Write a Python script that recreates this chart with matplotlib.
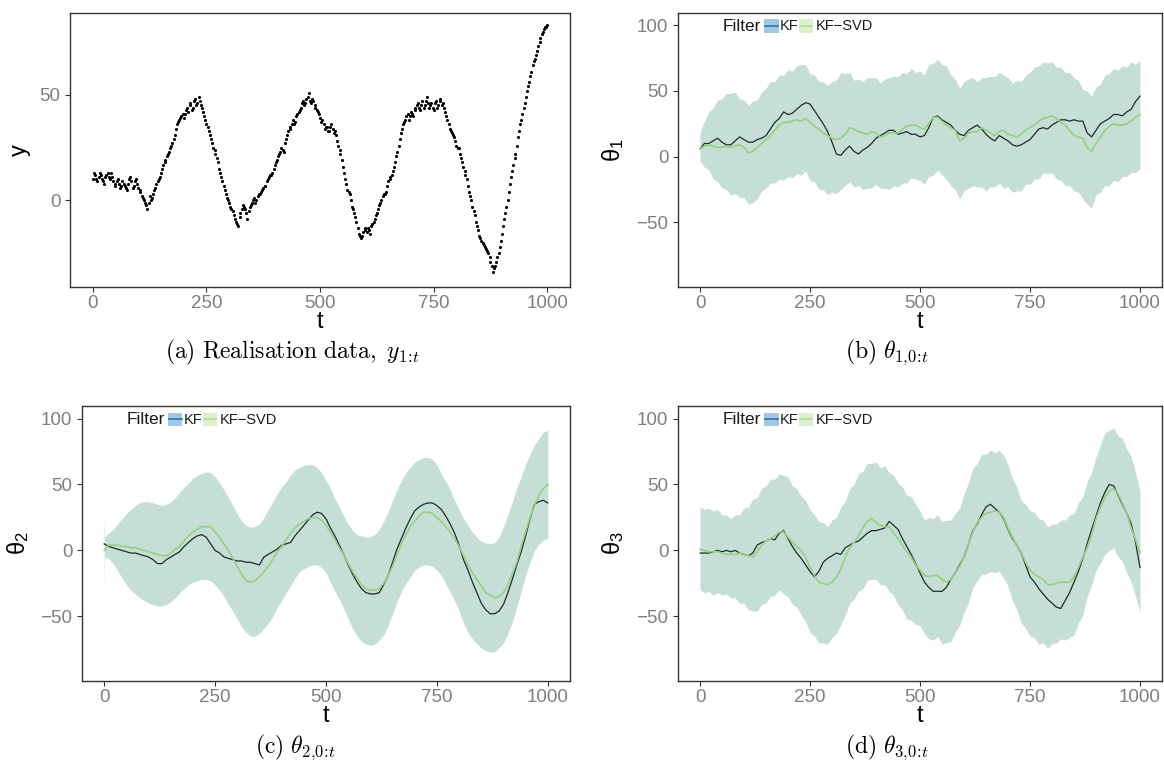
import numpy as np
import matplotlib
matplotlib.use("Agg")
import matplotlib.pyplot as plt
from matplotlib.patches import Rectangle
from matplotlib.lines import Line2D

plt.rcParams['font.family'] = ['Liberation Sans', 'DejaVu Sans']

# ---------------------------------------------------------------- data
t_obs = np.arange(0, 1001, 5)
y_obs = [
    10, 12, 9, 13, 10, 8, 12, 11, 13, 9, 8, 10, 6, 9, 7, 5, 10, 9, 7, 10,
    6, 4, 1, -1, -4, 2, 1, 5, 8, 10, 13, 17, 19, 22, 25, 27, 31, 36, 38, 40,
    39, 43, 42, 46, 44, 48, 46, 47, 44, 40, 36, 33, 29, 25, 22, 18, 13, 9, 5, 1,
    -1, -4, -7, -10, -12, -6, -2, -4, -9, -3, -1, 1, 0, 3, 4, 6, 7, 10, 12, 13,
    17, 19, 22, 25, 23, 29, 33, 35, 38, 37, 41, 43, 46, 45, 48, 51, 46, 47, 44, 42,
    39, 38, 34, 35, 33, 36, 32, 31, 26, 22, 16, 10, 5, 3, -3, -6, -10, -16, -18, -15,
    -14, -13, -16, -11, -9, -6, -2, 0, 3, 4, 9, 11, 14, 18, 23, 29, 34, 37, 40, 38,
    42, 40, 44, 46, 43, 47, 45, 49, 44, 46, 43, 47, 45, 47, 46, 42, 38, 34, 32, 30,
    26, 25, 20, 16, 12, 7, 2, -3, -7, -12, -17, -19, -21, -23, -25, -29, -34, -31, -27, -22,
    -16, -9, -3, 4, 11, 17, 22, 30, 36, 41, 46, 52, 56, 61, 66, 69, 73, 77, 80, 82,
    83,
]
t_obs_mid = np.arange(3, 1000, 5)
y_obs_mid = [
    13, 10, 11, 12, 9, 11, 13, 10, 11, 7, 9, 8, 7, 8, 6, 8, 11, 6, 9, 8,
    5, 2, 0, -2, -1, 0, 3, 6, 9, 11, 15, 18, 21, 23, 26, 29, 34, 37, 39, 41,
    41, 44, 45, 43, 47, 45, 49, 45, 42, 38, 35, 31, 27, 24, 20, 15, 11, 7, 3, 0,
    -3, -5, -9, -11, -8, -4, -3, -6, -5, -2, 0, -1, 2, 3, 5, 7, 9, 11, 12, 15,
    18, 21, 23, 24, 27, 31, 34, 36, 36, 40, 42, 44, 47, 46, 49, 47, 48, 45, 43, 41,
    37, 36, 35, 33, 35, 34, 33, 28, 24, 19, 13, 8, 4, 0, -4, -8, -13, -17, -17, -13,
    -15, -14, -12, -10, -7, -4, -1, 2, 3, 7, 10, 12, 16, 21, 26, 32, 36, 38, 41, 40,
    41, 43, 45, 44, 45, 44, 47, 46, 45, 44, 46, 44, 48, 45, 44, 40, 36, 33, 31, 28,
    25, 22, 18, 14, 10, 4, 0, -5, -10, -14, -18, -20, -22, -24, -27, -31, -32, -29, -25, -19,
    -12, -6, 0, 8, 14, 20, 26, 33, 38, 44, 49, 54, 59, 64, 67, 71, 75, 79, 81, 82,
]

t_grid = np.arange(0, 1001, 10)

theta1_kf = [
    6, 10, 10, 12, 14, 11, 9, 9, 12, 15,
    13, 11, 11, 13, 14, 16, 21, 26, 29, 34,
    32, 33, 36, 39, 41, 40, 35, 30, 25, 19,
    11, 2, 1, 5, 8, 4, 2, 5, 7, 10,
    14, 16, 18, 20, 20, 17, 18, 19, 17, 17,
    15, 16, 22, 30, 31, 28, 26, 24, 20, 17,
    16, 20, 22, 24, 21, 17, 14, 12, 16, 14,
    12, 9, 8, 9, 11, 13, 17, 21, 22, 21,
    24, 26, 28, 28, 27, 28, 27, 27, 18, 15,
    20, 25, 27, 29, 32, 32, 31, 34, 36, 42,
    46,
]
theta1_svd = [
    6, 8, 9, 8, 7, 7, 8, 7, 8, 9,
    7, 3, 4, 7, 10, 13, 16, 20, 24, 26,
    26, 27, 28, 27, 29, 26, 23, 21, 18, 16,
    14, 13, 14, 17, 22, 21, 19, 18, 17, 19,
    18, 15, 16, 18, 18, 18, 21, 23, 24, 24,
    22, 21, 25, 30, 30, 27, 24, 22, 20, 12,
    14, 18, 19, 19, 22, 20, 18, 16, 19, 20,
    17, 16, 15, 17, 20, 22, 24, 27, 29, 30,
    31, 29, 26, 24, 20, 16, 15, 14, 7, 4,
    10, 15, 20, 23, 25, 24, 24, 25, 27, 30,
    32,
]
theta1_upper = [
    18, 27, 34, 37, 43, 44, 48, 48, 49, 44,
    43, 39, 42, 43, 49, 52, 57, 57, 62, 62,
    66, 65, 69, 70, 70, 63, 62, 57, 57, 54,
    57, 58, 64, 63, 64, 58, 59, 57, 60, 60,
    60, 56, 59, 60, 61, 61, 64, 63, 67, 64,
    65, 62, 70, 71, 74, 70, 69, 62, 59, 52,
    57, 59, 60, 57, 60, 60, 61, 61, 64, 62,
    60, 56, 58, 57, 62, 64, 68, 69, 72, 71,
    72, 68, 68, 64, 64, 60, 58, 51, 50, 46,
    53, 55, 62, 63, 67, 66, 69, 68, 72, 70,
    73,
]
theta1_lower = [
    -3, -8, -10, -17, -19, -24, -25, -29, -28, -31,
    -31, -36, -35, -32, -26, -24, -20, -20, -17, -18,
    -15, -16, -13, -14, -11, -18, -19, -25, -25, -29,
    -27, -28, -25, -22, -19, -23, -22, -25, -24, -24,
    -21, -24, -24, -25, -22, -23, -20, -20, -16, -17,
    -18, -21, -15, -14, -10, -14, -17, -22, -25, -32,
    -26, -24, -22, -23, -23, -26, -23, -23, -20, -24,
    -23, -27, -26, -26, -21, -21, -17, -17, -12, -13,
    -12, -17, -18, -22, -22, -26, -27, -32, -36, -39,
    -29, -27, -22, -22, -18, -19, -15, -15, -12, -12,
    -9,
]

theta2_kf = [
    5, 3, 2, 1, 0, -1, -2, -2, -3, -4,
    -5, -7, -10, -10, -7, -5, -3, -1, 3, 6,
    9, 11, 12, 10, 5, 0, -2, -5, -6, -7,
    -8, -8, -9, -9, -10, -11, -5, -3, -1, 1,
    4, 5, 6, 11, 15, 19, 23, 27, 29, 28,
    24, 17, 11, 4, -3, -11, -18, -24, -29, -32,
    -33, -33, -32, -26, -19, -9, 1, 9, 17, 24,
    30, 33, 35, 36, 36, 34, 31, 26, 20, 13,
    4, -7, -15, -24, -32, -40, -45, -48, -48, -46,
    -41, -32, -22, -11, -1, 11, 24, 35, 37, 38,
    36,
]
theta2_svd = [
    0, 4, 4, 4, 3, 3, 2, 2, 1, 0,
    -1, -2, -3, -4, -4, -2, 1, 3, 7, 11,
    14, 16, 18, 18, 18, 14, 10, 5, 0, -6,
    -12, -18, -23, -24, -23, -20, -16, -12, -7, -1,
    3, 8, 13, 17, 20, 22, 24, 25, 25, 23,
    19, 14, 8, 2, -3, -10, -16, -21, -26, -29,
    -30, -30, -29, -25, -19, -12, -3, 5, 12, 18,
    22, 26, 29, 29, 28, 25, 22, 18, 14, 9,
    3, -4, -11, -17, -22, -27, -32, -34, -36, -35,
    -32, -26, -18, -9, 3, 14, 25, 34, 42, 47,
    50,
]
theta2_band_t = [0, 1] + list(range(10, 1001, 10))
theta2_upper = [
    28, 10,
    13, 16, 20, 24, 28, 31, 34, 36, 37,
    37, 36, 35, 34, 35, 37, 40, 44, 48, 51,
    55, 57, 58.5, 59.5, 59, 56, 51, 46, 40, 34,
    28, 22, 19, 17.5, 18, 20, 25, 31, 37, 43,
    48, 52, 57, 61, 63, 64.5, 65, 65, 63, 59,
    53, 47, 39, 33, 26, 20, 15, 12, 11, 10,
    10.5, 12, 16, 22, 29, 38, 46, 53, 59, 63,
    67, 69, 70.5, 70.5, 69, 65, 58, 52, 46, 38,
    31, 24, 19, 14, 10, 7, 5.5, 5, 6, 10,
    18, 27, 37, 47, 56, 65, 73, 80, 85, 90,
    91,
]
theta2_lower = [
    -28, -5,
    -6, -10, -15, -21, -26, -30, -33, -36, -38,
    -40, -41, -42, -42, -41, -39, -36, -32, -29, -26,
    -24, -23, -22, -22, -23, -26, -30, -35, -41, -46,
    -52, -58, -62, -65, -65, -63, -59, -55, -50, -43,
    -38, -32, -27, -21, -16, -14, -12, -11, -11, -13,
    -17, -24, -31, -37, -44, -52, -59, -65, -69, -71,
    -72, -71, -68, -64, -57, -48, -39, -31, -25, -20,
    -15, -12.5, -11, -11, -12, -15, -19, -25, -32, -38,
    -46, -55, -62, -67, -71, -74, -76, -77, -77, -74,
    -70, -63, -54, -43, -31, -19, -9, 0, 5, 8,
    9,
]

theta3_kf = [
    -2, -2, -2, -1, 0, -1, 0, -1, 0, -2,
    -3, -4, -2, 4, 6, 7, 9, 8, 13, 15,
    9, 3, -2, -6, -11, -16, -20, -16, -9, -6,
    -4, -2, -3, 2, 4, 6, 7, 10, 13, 15,
    15, 16, 17, 22, 19, 16, 9, 3, -3, -10,
    -17, -24, -28, -31, -31, -31, -28, -22, -17, -11,
    -5, 5, 15, 20, 27, 33, 35, 32, 29, 24,
    16, 9, 4, -2, -11, -20, -24, -29, -33, -37,
    -40, -43, -44, -38, -32, -24, -16, -6, 5, 16,
    26, 36, 44, 50, 49, 42, 35, 28, 20, 6,
    -13,
]
theta3_svd = [
    1, 0, -1, -1, -1, -2, -3, -3, -3, -2,
    -3, -4, -5, -1, 4, 7, 9, 11, 14, 14,
    10, 6, 3, 0, -5, -13, -19, -24, -25, -26,
    -24, -20, -14, -5, 2, 6, 11, 17, 22, 24,
    21, 19, 18, 18, 13, 9, 4, -1, -5, -11,
    -15, -19, -20, -19, -19, -22, -24, -22, -17, -12,
    -5, 5, 14, 21, 25, 28, 29, 30, 29, 25,
    17, 10, 4, -2, -9, -15, -18, -20, -22, -26,
    -26, -25, -24, -24, -24, -20, -13, -5, 2, 12,
    24, 33, 40, 45, 47, 43, 36, 28, 17, 8,
    -2,
]
theta3_upper = [
    33, 31, 32, 30, 31, 27, 27, 24, 27, 27,
    32, 33, 39, 40, 47, 49, 54, 54, 58, 57,
    56, 49, 47, 41, 38, 31, 27, 22, 21, 18,
    23, 25, 33, 37, 47, 50, 58, 60, 66, 66,
    67, 63, 64, 59, 57, 51, 48, 42, 41, 35,
    30, 23, 25, 24, 27, 22, 23, 23, 28, 32,
    43, 51, 62, 66, 73, 73, 76, 74, 76, 72,
    65, 55, 48, 38, 35, 30, 29, 24, 23, 18,
    20, 20, 23, 23, 27, 28, 36, 41, 52, 59,
    71, 80, 89, 91, 93, 87, 85, 77, 71, 59,
    45,
]
theta3_lower = [
    -30, -32, -31, -34, -32, -34, -33, -36, -36, -40,
    -40, -45, -46, -46, -41, -40, -35, -34, -30, -33,
    -35, -41, -43, -49, -54, -62, -65, -70, -70, -71,
    -66, -63, -56, -49, -40, -37, -31, -29, -23, -22,
    -22, -26, -26, -31, -34, -41, -45, -52, -53, -56,
    -57, -63, -67, -68, -65, -71, -70, -69, -62, -57,
    -47, -40, -28, -23, -18, -18, -16, -17, -16, -21,
    -27, -38, -45, -55, -59, -65, -66, -71, -70, -74,
    -71, -70, -67, -68, -66, -64, -55, -49, -35, -26,
    -15, -10, -3, 0, 2, -5, -8, -17, -24, -35,
    -47,
]

x_ticks = [0, 250, 500, 750, 1000]
y_ticks_obs = [0, 50]
y_ticks_state = [-50, 0, 50, 100]
filter_names = ['KF', 'KF\u2212SVD']

# ---------------------------------------------------------------- styling
W, H = 1164, 764
BAND = '#c5dfd6'
KF_LINE = '#1e2b28'
SVD_LINE = '#94d07e'
TICK_GREY = '#7f7f7f'
FRAME = '#333333'

fig = plt.figure(figsize=(W / 100, H / 100), dpi=100)


def px_axes(left, top, right, bottom):
    return fig.add_axes([left / W, 1 - bottom / H, (right - left) / W, (bottom - top) / H])


def style(ax, ylim, yticks, ylabel, ylab_x):
    ax.set_xlim(-50, 1050)
    ax.set_ylim(*ylim)
    ax.set_xticks(x_ticks)
    ax.set_yticks(yticks)
    for s in ax.spines.values():
        s.set_color(FRAME)
        s.set_linewidth(1.0)
    ax.tick_params(axis='both', direction='out', length=3.5, width=0.8,
                   color=FRAME, labelsize=13.5, labelcolor=TICK_GREY)
    ax.tick_params(axis='x', pad=2)
    ax.tick_params(axis='y', pad=3.5)
    ax.set_xlabel('t', fontsize=17)
    ax.xaxis.label.set_va('center')
    ax.xaxis.set_label_coords(0.5, -0.128)
    ax.set_ylabel(ylabel, fontsize=17)
    ax.yaxis.label.set_va('center')
    ax.yaxis.set_label_coords(ylab_x, 0.5)


def filter_key(ax_left, ax_top):
    y = ax_top + 14
    fig.text((ax_left + 45) / W, 1 - y / H, 'Filter', fontsize=12.5,
             color='#1a1a1a', ha='left', va='center')
    keys = [(86, 101.5, '#a4c6e2', '#1f78b4'), (120.5, 138, '#dcefcf', '#b2df8a')]
    for (kx, tx, fill, line), name in zip(keys, filter_names):
        x0 = ax_left + kx
        fig.add_artist(Rectangle((x0 / W, 1 - (ax_top + 20) / H), 14.5 / W, 13.5 / H,
                                 transform=fig.transFigure, facecolor=fill,
                                 edgecolor='none'))
        fig.add_artist(Line2D([(x0 + 1) / W, (x0 + 13.5) / W],
                              [1 - (ax_top + 13.3) / H] * 2,
                              transform=fig.transFigure, color=line, lw=1.2))
        fig.text((ax_left + tx) / W, 1 - y / H, name, fontsize=10.5,
                 color='#1a1a1a', ha='left', va='center')


def state_panel(ax, band_t, lower, upper, kf, svd):
    ax.fill_between(band_t, lower, upper, color=BAND, linewidth=0)
    ax.plot(t_grid, kf, color=KF_LINE, lw=0.9)
    ax.plot(t_grid, svd, color=SVD_LINE, lw=1.2)


ax_a = px_axes(70, 12.5, 570, 287)
ax_b = px_axes(678, 12.5, 1162, 287)
ax_c = px_axes(82, 406, 570, 681)
ax_d = px_axes(678, 406, 1162, 681)

# (a) observations
ax_a.scatter(np.concatenate([t_obs, t_obs_mid]), y_obs + y_obs_mid,
             s=5, c='black', linewidths=0)
style(ax_a, (-41, 89), y_ticks_obs, 'y', -0.1)

# (b)-(d) filtered states
state_panel(ax_b, t_grid, theta1_lower, theta1_upper, theta1_kf, theta1_svd)
style(ax_b, (-99, 109.5), y_ticks_state, r'$\mathregular{θ_1}$', -0.134)
filter_key(678, 12.5)

state_panel(ax_c, theta2_band_t, theta2_lower, theta2_upper, theta2_kf, theta2_svd)
style(ax_c, (-99, 109.5), y_ticks_state, r'$\mathregular{θ_2}$', -0.131)
filter_key(82, 406)

state_panel(ax_d, t_grid, theta3_lower, theta3_upper, theta3_kf, theta3_svd)
style(ax_d, (-99, 109.5), y_ticks_state, r'$\mathregular{θ_3}$', -0.134)
filter_key(678, 406)

# sub-figure captions
captions = [
    (292, 352, r'$\mathrm{(a)\ Realisation\ data,}\ y_{1\!:\!t}$'),
    (887, 352, r'$\mathrm{(b)}\ \theta_{1{,}0\!:\!t}$'),
    (295, 747, r'$\mathrm{(c)}\ \theta_{2{,}0\!:\!t}$'),
    (887, 747, r'$\mathrm{(d)}\ \theta_{3{,}0\!:\!t}$'),
]
for cx, cy, txt in captions:
    fig.text(cx / W, 1 - cy / H, txt, fontsize=17, ha='center', va='center',
             math_fontfamily='cm', color='black')

fig.savefig('out.png', dpi=100, facecolor='white')
